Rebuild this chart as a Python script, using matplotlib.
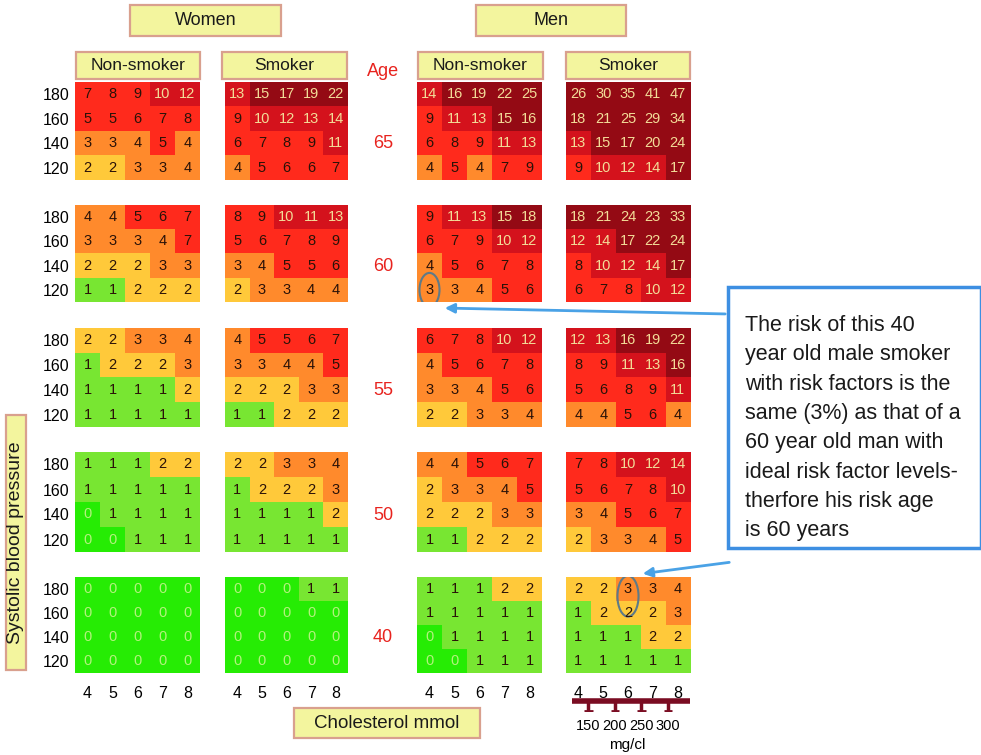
import matplotlib.pyplot as plt
import numpy as np
from matplotlib.colors import ListedColormap, BoundaryNorm
from matplotlib.patches import Rectangle, Ellipse, FancyArrowPatch

plt.rcParams["font.family"] = ["Liberation Sans", "DejaVu Sans"]

# 10-year risk (%) per panel; blocks ordered by age, rows by SBP 180 -> 120,
# columns by cholesterol 4 -> 8 mmol
ages = [65, 60, 55, 50, 40]
sbp = [180, 160, 140, 120]
chol = [4, 5, 6, 7, 8]
mgdl = [150, 200, 250, 300]

women_nonsmoker = [
    [[7, 8, 9, 10, 12], [5, 5, 6, 7, 8], [3, 3, 4, 5, 4], [2, 2, 3, 3, 4]],
    [[4, 4, 5, 6, 7], [3, 3, 3, 4, 7], [2, 2, 2, 3, 3], [1, 1, 2, 2, 2]],
    [[2, 2, 3, 3, 4], [1, 2, 2, 2, 3], [1, 1, 1, 1, 2], [1, 1, 1, 1, 1]],
    [[1, 1, 1, 2, 2], [1, 1, 1, 1, 1], [0, 1, 1, 1, 1], [0, 0, 1, 1, 1]],
    [[0, 0, 0, 0, 0], [0, 0, 0, 0, 0], [0, 0, 0, 0, 0], [0, 0, 0, 0, 0]],
]
women_smoker = [
    [[13, 15, 17, 19, 22], [9, 10, 12, 13, 14], [6, 7, 8, 9, 11], [4, 5, 6, 6, 7]],
    [[8, 9, 10, 11, 13], [5, 6, 7, 8, 9], [3, 4, 5, 5, 6], [2, 3, 3, 4, 4]],
    [[4, 5, 5, 6, 7], [3, 3, 4, 4, 5], [2, 2, 2, 3, 3], [1, 1, 2, 2, 2]],
    [[2, 2, 3, 3, 4], [1, 2, 2, 2, 3], [1, 1, 1, 1, 2], [1, 1, 1, 1, 1]],
    [[0, 0, 0, 1, 1], [0, 0, 0, 0, 0], [0, 0, 0, 0, 0], [0, 0, 0, 0, 0]],
]
men_nonsmoker = [
    [[14, 16, 19, 22, 25], [9, 11, 13, 15, 16], [6, 8, 9, 11, 13], [4, 5, 4, 7, 9]],
    [[9, 11, 13, 15, 18], [6, 7, 9, 10, 12], [4, 5, 6, 7, 8], [3, 3, 4, 5, 6]],
    [[6, 7, 8, 10, 12], [4, 5, 6, 7, 8], [3, 3, 4, 5, 6], [2, 2, 3, 3, 4]],
    [[4, 4, 5, 6, 7], [2, 3, 3, 4, 5], [2, 2, 2, 3, 3], [1, 1, 2, 2, 2]],
    [[1, 1, 1, 2, 2], [1, 1, 1, 1, 1], [0, 1, 1, 1, 1], [0, 0, 1, 1, 1]],
]
men_smoker = [
    [[26, 30, 35, 41, 47], [18, 21, 25, 29, 34], [13, 15, 17, 20, 24], [9, 10, 12, 14, 17]],
    [[18, 21, 24, 23, 33], [12, 14, 17, 22, 24], [8, 10, 12, 14, 17], [6, 7, 8, 10, 12]],
    [[12, 13, 16, 19, 22], [8, 9, 11, 13, 16], [5, 6, 8, 9, 11], [4, 4, 5, 6, 4]],
    [[7, 8, 10, 12, 14], [5, 6, 7, 8, 10], [3, 4, 5, 6, 7], [2, 3, 3, 4, 5]],
    [[2, 2, 3, 3, 4], [1, 2, 2, 2, 3], [1, 1, 1, 2, 2], [1, 1, 1, 1, 1]],
]
panels = [women_nonsmoker, women_smoker, men_nonsmoker, men_smoker]

# risk bands: 0, 1, 2, 3-4, 5-9, 10-14, 15+
cmap = ListedColormap(["#26ec04", "#78e632", "#ffc93a", "#ff8a2c",
                       "#ff2a1c", "#d4121c", "#940a14"])
norm = BoundaryNorm([0, 1, 2, 3, 5, 10, 15, 100], cmap.N)

W, H = 981, 755
fig = plt.figure(figsize=(W / 100, H / 100), dpi=100)


def fx(x):
    return x / W


def fy(y):
    return 1 - y / H


def px_axes(x0, y0, x1, y1):
    return fig.add_axes([fx(x0), fy(y1), (x1 - x0) / W, (y1 - y0) / H])


def label_box(x0, y0, x1, y1, text, size=12, rotation=0):
    fig.add_artist(Rectangle((fx(x0), fy(y1)), (x1 - x0) / W, (y1 - y0) / H,
                             transform=fig.transFigure, facecolor="#f3f59e",
                             edgecolor="#d9a08e", lw=1.6))
    fig.text(fx((x0 + x1) / 2), fy((y0 + y1) / 2), text, ha="center",
             va="center", fontsize=size, rotation=rotation, color="#1a1a1a")


col_px = [(75, 200), (225, 348), (417, 542), (566, 690)]
row_px = [(82, 180), (205, 302), (328, 427), (452, 552), (577, 673)]

for c, (panel, (x0, x1)) in enumerate(zip(panels, col_px)):
    for r, (vals, (y0, y1)) in enumerate(zip(panel, row_px)):
        ax = px_axes(x0, y0, x1, y1)
        arr = np.array(vals)
        ax.imshow(arr, cmap=cmap, norm=norm, aspect="auto",
                  extent=(3.5, 8.5, 110, 190), interpolation="nearest")
        for i, s in enumerate(sbp):
            for j, ch in enumerate(chol):
                v = arr[i, j]
                if v == 0:
                    tc = "#b4f27e"
                elif v >= 10:
                    tc = "#f3dc98"
                else:
                    tc = "#2a1208"
                ax.text(ch, s, str(v), ha="center", va="center",
                        fontsize=10.5, color=tc)
        for sp in ax.spines.values():
            sp.set_visible(False)
        ax.tick_params(length=0, labelsize=11.5, pad=4)
        ax.set_yticks(sbp if c == 0 else [])
        ax.set_xticks(chol if r == len(ages) - 1 else [])
        if r == len(ages) - 1:
            ax.tick_params(axis="x", pad=9)
        if c == 2 and r == 1:
            ax.add_patch(Ellipse((4, 120), 0.8, 28, fill=False,
                                 ec="#5e7a88", lw=1.5))
        if c == 3 and r == 4:
            ax.add_patch(Ellipse((6, 174), 0.85, 34, fill=False,
                                 ec="#5e7a88", lw=1.5))

# age column
fig.text(fx(383), fy(72), "Age", ha="center", va="center",
         fontsize=13, color="#e8231e")
for age, (y0, y1) in zip(ages, row_px):
    fig.text(fx(383), fy((y0 + y1) / 2 + 13), str(age), ha="center",
             va="center", fontsize=13, color="#e8231e")

label_box(130, 5, 281, 36, "Women", size=13)
label_box(476, 5, 626, 36, "Men", size=13)
label_box(76, 52, 200, 79, "Non-smoker", size=12.5)
label_box(222, 52, 347, 79, "Smoker", size=12.5)
label_box(418, 52, 543, 79, "Non-smoker", size=12.5)
label_box(566, 52, 690, 79, "Smoker", size=12.5)
label_box(294, 708, 480, 738, "Cholesterol mmol", size=13.5)
label_box(6, 415, 26, 670, "Systolic blood pressure", size=14, rotation=90)

# mg/cl scale under the men smoker column
sax = px_axes(572, 698, 690, 712)
sax.set_xlim(119, 342)
sax.set_ylim(-1, 1)
sax.axhline(0.55, color="#7a0c22", lw=4)
sax.vlines(mgdl, -0.9, 0.6, color="#7a0c22", lw=2.5)
sax.hlines([-0.8] * len(mgdl), [m - 8 for m in mgdl], [m + 8 for m in mgdl],
           color="#7a0c22", lw=2)
sax.set_xticks(mgdl)
sax.set_xticklabels([str(m) for m in mgdl], fontsize=10.5)
sax.tick_params(length=0, pad=5)
sax.set_yticks([])
for sp in sax.spines.values():
    sp.set_visible(False)
sax.patch.set_visible(False)
fig.text(fx(627), fy(745), "mg/cl", ha="center", va="center", fontsize=11)

# explanation box with arrows
fig.add_artist(Rectangle((fx(728), fy(548)), 253 / W, 261 / H,
                         transform=fig.transFigure, facecolor="white",
                         edgecolor="#3d8fe2", lw=2.5))
note = ("The risk of this 40\nyear old male smoker\nwith risk factors is the\n"
        "same (3%) as that of a\n60 year old man with\nideal risk factor levels-\n"
        "therfore his risk age\nis 60 years")
fig.text(fx(745), fy(315), note, ha="left", va="top", fontsize=15.5,
         linespacing=1.52, color="#1a1a1a")
for (xa, ya), (xb, yb) in [((728, 314), (442, 308)), ((732, 562), (640, 574))]:
    fig.add_artist(FancyArrowPatch((fx(xa), fy(ya)), (fx(xb), fy(yb)),
                                   transform=fig.transFigure,
                                   arrowstyle="-|>", mutation_scale=14,
                                   color="#4aa2e6", lw=2))

fig.savefig("out.png", dpi=100, facecolor="white")
